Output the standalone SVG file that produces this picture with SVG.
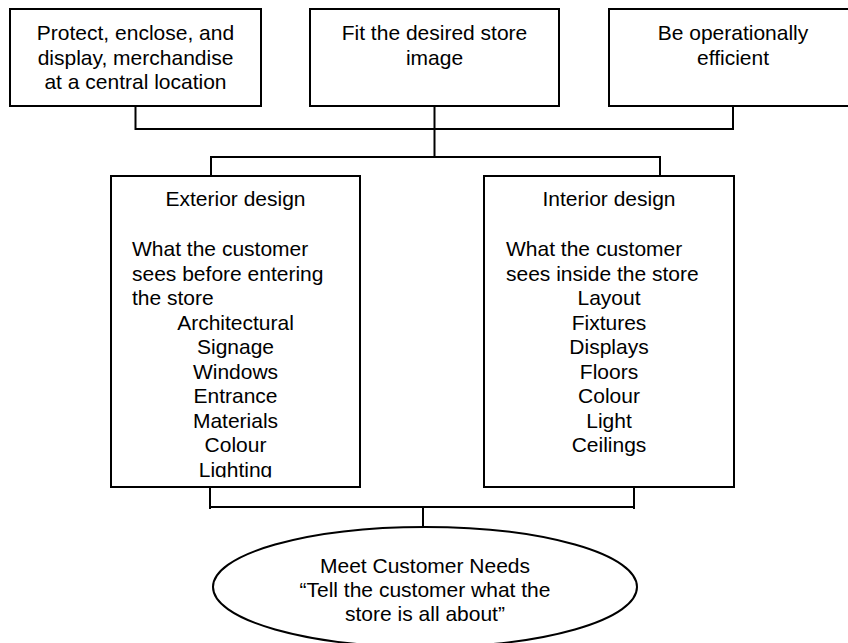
<svg xmlns="http://www.w3.org/2000/svg" width="848" height="643" viewBox="0 0 848 643">
<style>
.box{fill:#fff;stroke:#000;stroke-width:2}
.ln{fill:none;stroke:#000;stroke-width:2}
text{font-family:"Liberation Sans",Arial,sans-serif;font-size:21px;fill:#000}
.c{text-anchor:middle}
</style>
<defs>
<clipPath id="clipExt"><rect x="112" y="177" width="247" height="300.5"/></clipPath>
</defs>
<rect width="848" height="643" fill="#fff"/>
<g id="connectors">
<polyline class="ln" points="135.5,106 135.5,129 733,129 733,106"/>
<line class="ln" x1="434.5" y1="106" x2="434.5" y2="157"/>
<polyline class="ln" points="211,176 211,157 660,157 660,176"/>
<polyline class="ln" points="210,484 210,507 634,507 634,484"/>
<line class="ln" x1="210" y1="509" x2="210" y2="505"/>
<line class="ln" x1="634" y1="509" x2="634" y2="505"/>
<line class="ln" x1="423" y1="507" x2="423" y2="528"/>
</g>
<g id="protect">
<rect class="box" x="10" y="9" width="251" height="97"/>
<text class="c" x="135.5" y="40">Protect, enclose, and</text>
<text class="c" x="135.5" y="64.5">display, merchandise</text>
<text class="c" x="135.5" y="89">at a central location</text>
</g>
<g id="image">
<rect class="box" x="310" y="9" width="249" height="97"/>
<text class="c" x="434.5" y="40">Fit the desired store</text>
<text class="c" x="434.5" y="64.5">image</text>
</g>
<g id="efficient">
<rect class="box" x="609" y="9" width="250" height="97"/>
<text class="c" x="733" y="40">Be operationally</text>
<text class="c" x="733" y="64.5">efficient</text>
</g>
<g id="exterior">
<rect class="box" x="111" y="176" width="249" height="311"/>
<g clip-path="url(#clipExt)">
<text class="c" x="235.5" y="206">Exterior design</text>
<text x="132" y="256">What the customer</text>
<text x="132" y="280.5">sees before entering</text>
<text x="132" y="305">the store</text>
<text class="c" x="235.5" y="329.5">Architectural</text>
<text class="c" x="235.5" y="354">Signage</text>
<text class="c" x="235.5" y="378.5">Windows</text>
<text class="c" x="235.5" y="403">Entrance</text>
<text class="c" x="235.5" y="427.5">Materials</text>
<text class="c" x="235.5" y="452">Colour</text>
<text class="c" x="235.5" y="476.5">Lighting</text>
</g>
</g>
<g id="interior">
<rect class="box" x="484" y="176" width="250" height="311"/>
<text class="c" x="609" y="206">Interior design</text>
<text x="506" y="256">What the customer</text>
<text x="506" y="280.5">sees inside the store</text>
<text class="c" x="609" y="305">Layout</text>
<text class="c" x="609" y="329.5">Fixtures</text>
<text class="c" x="609" y="354">Displays</text>
<text class="c" x="609" y="378.5">Floors</text>
<text class="c" x="609" y="403">Colour</text>
<text class="c" x="609" y="427.5">Light</text>
<text class="c" x="609" y="452">Ceilings</text>
</g>
<g id="needs">
<ellipse class="box" cx="425" cy="587" rx="212" ry="60"/>
<text class="c" x="425" y="573">Meet Customer Needs</text>
<text class="c" x="425" y="597">“Tell the customer what the</text>
<text class="c" x="425" y="621">store is all about”</text>
</g>
</svg>
